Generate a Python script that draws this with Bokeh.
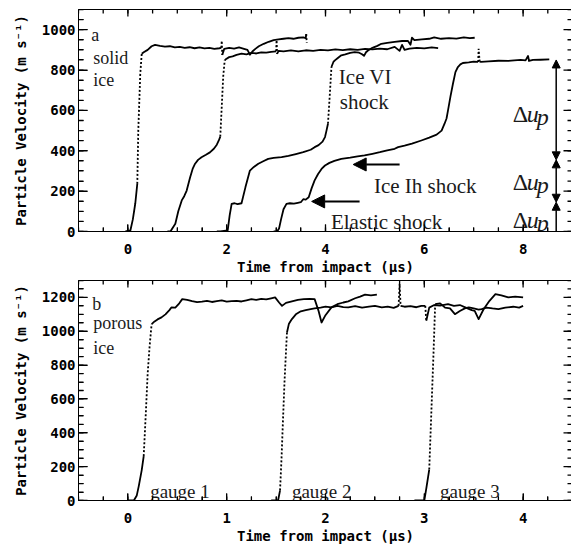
import math
from bokeh.plotting import figure
from bokeh.layouts import column
from bokeh.models import (Range1d, SingleIntervalTicker, Arrow, NormalHead, ColumnDataSource)
from bokeh.core.properties import value
from bokeh.embed import file_html
from bokeh.resources import INLINE

# ---------------- Panel a : solid ice ----------------
a1_t = [-0.05, 0.05, 0.10, 0.15, 0.19, 0.21, 0.25, 0.28, 0.32, 0.40, 0.48, 0.55, 0.65, 0.75, 0.85,
        0.95, 1.05, 1.15, 1.25, 1.35, 1.45, 1.55, 1.65, 1.75, 1.85, 1.89, 1.90, 1.91, 1.95, 2.05,
        2.15, 2.25, 2.35, 2.42, 2.47, 2.52, 2.58, 2.65, 2.75, 2.85, 2.95, 3.05, 3.15, 3.25, 3.35,
        3.45, 3.55, 3.60, 3.61, 3.62]
a1_v = [0, 5, 60, 140, 236, 500, 780, 881, 888, 900, 918, 925, 920, 916, 918,
        912, 915, 910, 913, 908, 912, 907, 910, 905, 908, 910, 945, 875, 905, 910,
        906, 912, 905, 900, 876, 892, 905, 918, 930, 940, 948, 952, 955, 958, 955,
        960, 962, 958, 978, 935]

a2_t = [0.80, 0.86, 0.96, 1.02, 1.09, 1.14, 1.19, 1.26, 1.31, 1.36, 1.42, 1.49, 1.58, 1.66,
        1.74, 1.80, 1.84, 1.87, 1.90, 1.93, 1.96, 1.99, 2.05, 2.12, 2.20, 2.30, 2.40, 2.50,
        2.60, 2.70, 2.80, 2.90, 3.00, 3.01, 3.02, 3.05, 3.15, 3.30, 3.45, 3.60, 3.75, 3.90,
        4.05, 4.20, 4.35, 4.50, 4.65, 4.80, 4.95, 5.10, 5.25, 5.40, 5.50, 5.55, 5.60, 5.70,
        5.85, 6.00, 6.15, 6.28]
a2_v = [0, 0, 38, 100, 154, 175, 203, 269, 310, 336, 355, 368, 380, 392,
        410, 430, 451, 470, 620, 770, 848, 855, 864, 868, 875, 881, 878, 885,
        882, 888, 886, 890, 893, 948, 880, 895, 893, 897, 892, 898, 895, 900,
        897, 902, 899, 903, 900, 905, 902, 906, 903, 915, 895, 925, 900, 906,
        910, 907, 912, 909]

a3_t = [1.80, 1.87, 2.02, 2.06, 2.10, 2.16, 2.22, 2.30, 2.38, 2.47, 2.55, 2.64, 2.74, 2.84,
        2.95, 3.11, 3.25, 3.40, 3.55, 3.70, 3.78, 3.86, 3.94, 3.99, 4.02, 4.05, 4.08, 4.10,
        4.12, 4.16, 4.19, 4.25, 4.32, 4.40, 4.50, 4.59, 4.68, 4.74, 4.78, 4.82, 4.86, 4.95,
        5.05, 5.13, 5.25, 5.40, 5.55, 5.67, 5.72, 5.75, 5.80, 5.95, 6.10, 6.20, 6.34, 6.50,
        6.65, 6.80, 6.92, 7.02]
a3_v = [0, 0, 5, 80, 137, 140, 136, 140, 220, 302, 320, 336, 348, 360,
        365, 369, 375, 384, 393, 405, 418, 428, 445, 468, 500, 534, 650, 730,
        815, 840, 848, 860, 873, 878, 885, 889, 886, 878, 870, 888, 897, 910,
        920, 930, 935, 940, 944, 944, 925, 960, 948, 952, 955, 962, 955, 958,
        956, 962, 958, 960]

a4_t = [2.95, 3.02, 3.06, 3.10, 3.15, 3.21, 3.28, 3.36, 3.44, 3.50, 3.55, 3.60, 3.66, 3.72,
        3.78, 3.85, 3.92, 3.99, 4.08, 4.18, 4.32, 4.50, 4.65, 4.79, 4.95, 5.10, 5.25, 5.40,
        5.47, 5.60, 5.75, 5.94, 6.10, 6.25, 6.35, 6.41, 6.45, 6.48, 6.53, 6.58, 6.63, 6.68,
        6.73, 6.78, 6.90, 7.00, 7.09, 7.10, 7.12, 7.15, 7.30, 7.50, 7.70, 7.82, 7.95, 8.05,
        8.10, 8.12, 8.20, 8.35, 8.53]
a4_v = [0, 0, 15, 60, 110, 137, 140, 138, 142, 145, 160, 158, 170, 215,
        253, 285, 310, 327, 340, 350, 360, 366, 372, 377, 385, 393, 402, 410,
        418, 425, 435, 451, 465, 480, 500, 534, 560, 600, 670, 732, 790, 815,
        828, 835, 838, 842, 840, 905, 842, 840, 843, 846, 845, 848, 850, 848,
        870, 845, 850, 851, 853]

# ---------------- Panel b : porous ice ----------------
b1_t = [0.00, 0.06, 0.09, 0.11, 0.14, 0.16, 0.18, 0.20, 0.22, 0.24, 0.27, 0.30, 0.34, 0.38,
        0.42, 0.44, 0.48, 0.52, 0.55, 0.60, 0.65, 0.70, 0.75, 0.80, 0.85, 0.90, 0.95, 1.00,
        1.05, 1.10, 1.15, 1.20, 1.25, 1.30, 1.35, 1.40, 1.45, 1.49, 1.53, 1.56, 1.60, 1.66,
        1.72, 1.78, 1.84, 1.89, 1.93, 1.96, 2.00, 2.06, 2.12, 2.18, 2.23, 2.30, 2.35, 2.40,
        2.46, 2.52]
b1_v = [0, 0, 30, 85, 180, 262, 500, 750, 913, 1042, 1058, 1070, 1082, 1100,
        1125, 1141, 1140, 1165, 1190, 1185, 1178, 1172, 1175, 1180, 1173, 1178, 1182, 1175,
        1178, 1180, 1176, 1183, 1190, 1185, 1192, 1188, 1195, 1200, 1170, 1150, 1168, 1177,
        1185, 1190, 1192, 1190, 1120, 1052, 1095, 1141, 1160, 1170, 1177, 1195, 1205, 1216,
        1212, 1216]

b2_t = [1.45, 1.52, 1.54, 1.555, 1.57, 1.585, 1.60, 1.61, 1.63, 1.66, 1.70, 1.75, 1.80, 1.85,
        1.89, 1.95, 2.00, 2.06, 2.12, 2.18, 2.23, 2.30, 2.37, 2.44, 2.50, 2.57, 2.63, 2.69,
        2.74, 2.75, 2.76, 2.80, 2.86, 2.92, 2.97, 3.01, 3.02, 3.05, 3.10, 3.16, 3.24, 3.30,
        3.36, 3.42, 3.48, 3.51, 3.55, 3.60, 3.66, 3.72, 3.78, 3.85, 3.92, 4.00]
b2_v = [0, 0, 60, 250, 480, 700, 880, 993, 1045, 1072, 1100, 1118, 1125, 1131,
        1135, 1140, 1145, 1141, 1150, 1143, 1141, 1148, 1140, 1146, 1150, 1141, 1145, 1138,
        1150, 1280, 1150, 1145, 1148, 1142, 1150, 1150, 1062, 1140, 1155, 1152, 1160, 1150,
        1155, 1140, 1125, 1121, 1072, 1130, 1180, 1220, 1212, 1200, 1205, 1200]

b3_t = [2.90, 3.00, 3.02, 3.05, 3.065, 3.08, 3.095, 3.11, 3.16, 3.21, 3.26, 3.31, 3.36, 3.41,
        3.45, 3.50, 3.55, 3.58, 3.63, 3.69, 3.75, 3.82, 3.90, 3.96, 4.00]
b3_v = [0, 0, 70, 183, 420, 660, 900, 1160, 1165, 1140, 1135, 1101, 1120, 1135,
        1141, 1135, 1128, 1131, 1140, 1135, 1131, 1140, 1145, 1140, 1150]

# ---------------- annotations ----------------
a_corner_text = ["a", "solid", "ice"]
a_corner_x = [-0.74, -0.70, -0.70]
a_corner_y = [975, 861, 749]

a_note_text = ["Ice VI", "shock", "Ice Ih shock", "Elastic shock"]
a_note_x = [4.27, 4.29, 4.98, 4.11]
a_note_y = [768, 641, 223, 46]

du_x = [7.79, 7.79, 7.79]
du_y = [583, 244, 55]

b_corner_text = ["b", "porous", "ice"]
b_corner_x = [-0.36, -0.35, -0.35]
b_corner_y = [1160, 1046, 900]

gauge_text = ["gauge 1", "gauge 2", "gauge 3"]
gauge_x = [0.225, 1.66, 3.16]
gauge_y = [55, 55, 55]

MONO = "DejaVu Sans Mono"
SERIF = "Liberation Serif"
FRAME_W = 494


def split_runs(t, v, thr):
    solid_x, solid_y, dot_x, dot_y = [], [], [], []
    cur, cx, cy = None, [], []
    for i in range(len(t) - 1):
        slope = abs(v[i + 1] - v[i]) / (t[i + 1] - t[i])
        typ = "dot" if slope > thr else "solid"
        if typ != cur:
            if cur == "dot":
                dot_x.append(cx); dot_y.append(cy)
            elif cur == "solid":
                solid_x.append(cx); solid_y.append(cy)
            cur, cx, cy = typ, [t[i]], [v[i]]
        cx.append(t[i + 1]); cy.append(v[i + 1])
    if cur == "dot":
        dot_x.append(cx); dot_y.append(cy)
    elif cur == "solid":
        solid_x.append(cx); solid_y.append(cy)
    return solid_x, solid_y, dot_x, dot_y


def positions(lo, hi, step):
    n0 = math.ceil(lo / step - 1e-9)
    n1 = math.floor(hi / step + 1e-9)
    return [float(n * step) for n in range(n0, n1 + 1)]


def frame_ticks(p, xr, yr, xint, yint, frame_h):
    # inward tick marks on all four sides: short dashes centred just inside the frame
    dxp = (xr[1] - xr[0]) / FRAME_W
    dyp = (yr[1] - yr[0]) / frame_h
    for step, ln in ((xint, 7), (xint / 4, 4)):
        xs = positions(xr[0], xr[1], step)
        for y_edge, sgn in ((yr[0], 1), (yr[1], -1)):
            yc = y_edge + sgn * (ln / 2) * dyp
            p.scatter(x=xs, y=[yc] * len(xs), marker="dash", size=ln, angle=math.pi / 2,
                      line_color="black", line_width=1.3)
    for step, ln in ((yint, 9), (yint / 4, 5)):
        ys = positions(yr[0], yr[1], step)
        for x_edge, sgn in ((xr[0], 1), (xr[1], -1)):
            xc = x_edge + sgn * (ln / 2) * dxp
            p.scatter(x=[xc] * len(ys), y=ys, marker="dash", size=ln,
                      line_color="black", line_width=1.3)


def make_fig(xr, yr, xint, yint, frame_h, top_border):
    p = figure(frame_width=FRAME_W, frame_height=frame_h, x_range=Range1d(*xr),
               y_range=Range1d(*yr), output_backend="svg", toolbar_location=None,
               min_border_left=78, min_border_right=0, min_border_top=top_border,
               min_border_bottom=0, background_fill_color="white", border_fill_color="white")
    p.xgrid.visible = False
    p.ygrid.visible = False
    p.outline_line_color = "black"
    p.outline_line_width = 1
    p.xaxis.ticker = SingleIntervalTicker(interval=xint, num_minor_ticks=4)
    p.yaxis.ticker = SingleIntervalTicker(interval=yint, num_minor_ticks=4)
    for ax in (p.xaxis[0], p.yaxis[0]):
        ax.major_tick_out = 0
        ax.minor_tick_out = 0
        ax.axis_line_color = "black"
        ax.major_tick_line_color = "black"
        ax.minor_tick_line_color = "black"
        ax.major_label_text_font = MONO
        ax.major_label_text_font_size = "14px"
        ax.major_label_text_font_style = "bold"
        ax.major_label_text_color = "black"
        ax.axis_label_text_font = MONO
        ax.axis_label_text_font_size = "14px"
        ax.axis_label_text_font_style = "bold"
        ax.axis_label_text_color = "black"
    p.xaxis.major_tick_in = 7
    p.xaxis.minor_tick_in = 4
    p.yaxis.major_tick_in = 9
    p.yaxis.minor_tick_in = 5
    p.xaxis.major_label_standoff = 12
    p.xaxis.axis_label_standoff = 2
    p.yaxis.major_label_standoff = 3
    p.yaxis.axis_label_standoff = 10
    p.xaxis.axis_label = "Time from impact (\u03bcs)"
    p.yaxis.axis_label = "Particle Velocity (m s\u207b\u00b9)"
    return p


def draw_trace(p, t, v, thr):
    sx, sy, dx, dy = split_runs(t, v, thr)
    p.multi_line(sx, sy, line_color="black", line_width=1.8, line_join="round")
    if dx:
        p.multi_line(dx, dy, line_color="black", line_width=1.8, line_dash="2 2")


def add_text(p, xs, ys, texts, size, style="normal", x_off=0, y_off=0, color="#1a1a1a"):
    src = ColumnDataSource(dict(x=xs, y=ys, text=texts))
    p.text(x="x", y="y", text="text", source=src, text_font=value(SERIF),
           text_font_size=size, text_font_style=style, text_color=color,
           text_align="left", text_baseline="alphabetic", x_offset=x_off, y_offset=y_off)


# ---------------- panel a ----------------
A_XR, A_YR = (-1, 9), (0, 1100)
pa = make_fig(A_XR, A_YR, 2, 200, 222, 9)
for t, v in ((a1_t, a1_v), (a2_t, a2_v), (a3_t, a3_v), (a4_t, a4_v)):
    draw_trace(pa, t, v, 2500)
frame_ticks(pa, A_XR, A_YR, 2, 200, 222)

add_text(pa, a_corner_x, a_corner_y, a_corner_text, "18px")
add_text(pa, a_note_x, a_note_y, a_note_text, "21px")
add_text(pa, du_x, du_y, ["\u0394"] * 3, "24px")
add_text(pa, du_x, du_y, ["u"] * 3, "24px", style="italic", x_off=14)
add_text(pa, du_x, du_y, ["p"] * 3, "24px", style="italic", x_off=24, y_off=3)

# arrows pointing at the shocks
arrow_x_start = [5.50, 4.69]
arrow_x_end = [4.56, 3.72]
arrow_y = [332, 149]
for xs_, xe_, y_ in zip(arrow_x_start, arrow_x_end, arrow_y):
    pa.add_layout(Arrow(end=NormalHead(size=13, fill_color="black", line_color="black"),
                        x_start=xs_, y_start=y_, x_end=xe_, y_end=y_,
                        line_color="black", line_width=2))

# velocity increments
du_arrow_x = 8.67
du_levels = [850, 355, 145, 0]
for i in range(3):
    hi, lo = du_levels[i], du_levels[i + 1]
    start = None if i == 2 else NormalHead(size=8, fill_color="black", line_color="black")
    pa.add_layout(Arrow(start=start,
                        end=NormalHead(size=8, fill_color="black", line_color="black"),
                        x_start=du_arrow_x, y_start=lo, x_end=du_arrow_x, y_end=hi,
                        line_color="black", line_width=1.5))

# ---------------- panel b ----------------
B_XR, B_YR = (-0.5, 4.5), (0, 1300)
pb = make_fig(B_XR, B_YR, 1, 200, 220, 3)
for t, v in ((b1_t, b1_v), (b2_t, b2_v), (b3_t, b3_v)):
    draw_trace(pb, t, v, 5000)
frame_ticks(pb, B_XR, B_YR, 1, 200, 220)

add_text(pb, b_corner_x, b_corner_y, b_corner_text, "18px")
add_text(pb, gauge_x, gauge_y, gauge_text, "19px")

layout = column(pa, pb, spacing=0)
open("out.html", "w").write(file_html(layout, INLINE))
